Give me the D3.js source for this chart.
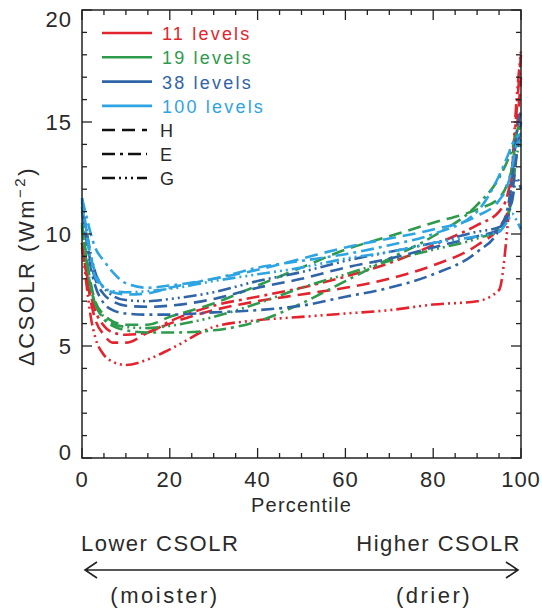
<!DOCTYPE html>
<html>
<head>
<meta charset="utf-8">
<script src="https://cdn.jsdelivr.net/npm/d3@7"></script>
<style>
  body { margin: 0; background: #fff; }
  svg text { font-family: "Liberation Sans", Arial, sans-serif; fill: #2a2a2a; }
</style>
</head>
<body>
<svg width="542" height="611"></svg>
<script>
// Percentile grid shared by every curve
var percentiles = [0, 1, 2, 3, 5, 7, 10, 15, 20, 30, 40, 50, 60, 70, 80, 90, 95, 97, 98, 99, 100];

// 11 levels
var red_H = [9.6, 8.2, 7.0, 6.2, 5.5, 5.15, 5.15, 5.6, 6.0, 6.6, 7.0, 7.3, 7.6, 8.0, 8.6, 9.5, 10.3, 11.0, 12.0, 14.5, 17.0];
var red_E = [9.4, 8.3, 7.3, 6.6, 5.9, 5.6, 5.5, 5.6, 6.1, 6.8, 7.2, 7.6, 8.1, 8.7, 9.5, 10.4, 11.0, 11.8, 13.0, 15.5, 18.0];
var red_G = [9.6, 7.8, 6.3, 5.4, 4.6, 4.3, 4.15, 4.4, 4.85, 5.85, 6.15, 6.3, 6.45, 6.6, 6.85, 7.0, 7.5, 10.5, 13.0, 16.0, 18.2];
// 19 levels
var green_H = [10.5, 9.0, 7.8, 7.0, 6.4, 6.1, 5.95, 5.95, 6.3, 6.9, 7.7, 8.5, 9.3, 9.9, 10.5, 11.1, 11.6, 12.3, 13.0, 14.5, 15.0];
var green_E = [10.3, 8.8, 7.6, 6.9, 6.2, 5.9, 5.7, 5.6, 5.6, 5.7, 6.1, 6.9, 7.9, 8.9, 9.9, 11.3, 12.5, 13.3, 13.8, 14.5, 14.8];
var green_G = [10.4, 8.9, 7.6, 6.9, 6.3, 6.0, 5.85, 5.8, 5.9, 6.3, 6.9, 7.6, 8.2, 8.8, 9.3, 9.8, 10.2, 10.8, 11.8, 13.5, 14.0];
// 38 levels
var blue_H = [11.0, 9.8, 8.7, 8.0, 7.3, 7.0, 6.8, 6.75, 6.8, 7.1, 7.6, 8.0, 8.5, 8.9, 9.4, 9.9, 10.2, 10.8, 11.8, 13.5, 15.0];
var blue_E = [11.2, 9.8, 8.5, 7.7, 6.9, 6.6, 6.45, 6.4, 6.4, 6.5, 6.6, 6.8, 7.2, 7.6, 8.2, 9.2, 10.2, 11.2, 12.5, 14.5, 15.5];
var blue_G = [11.5, 10.2, 9.1, 8.3, 7.6, 7.25, 7.05, 7.0, 7.1, 7.4, 7.9, 8.3, 8.8, 9.2, 9.6, 10.1, 10.3, 10.8, 11.5, 12.5, 12.0];
// 100 levels
var light_H = [11.6, 10.2, 9.0, 8.3, 7.6, 7.4, 7.3, 7.35, 7.6, 8.0, 8.4, 8.9, 9.4, 9.8, 10.2, 10.8, 11.5, 12.2, 13.0, 14.0, 14.2];
var light_E = [11.6, 10.8, 10.0, 9.4, 8.8, 8.3, 7.8, 7.6, 7.7, 8.0, 8.5, 8.8, 9.1, 9.5, 10.0, 11.0, 12.6, 13.5, 14.0, 14.3, 14.5];
var light_G = [11.4, 10.0, 8.8, 8.1, 7.6, 7.45, 7.4, 7.45, 7.55, 7.9, 8.2, 8.5, 8.9, 9.2, 9.6, 9.9, 10.1, 10.6, 10.9, 10.6, 10.2];

var levelNames = ["11 levels", "19 levels", "38 levels", "100 levels"];
var levelColors = ["#e2242e", "#2e9a4c", "#2f64a6", "#2ea4e2"];
var schemeNames = ["H", "E", "G"];
var schemeDashes = ["13,7", "13,5,3,5", "13,4,2,4,2,4,2,4"];

var curves = [
  { level: 0, scheme: 0, values: red_H },
  { level: 0, scheme: 1, values: red_E },
  { level: 0, scheme: 2, values: red_G },
  { level: 1, scheme: 0, values: green_H },
  { level: 1, scheme: 1, values: green_E },
  { level: 1, scheme: 2, values: green_G },
  { level: 2, scheme: 0, values: blue_H },
  { level: 2, scheme: 1, values: blue_E },
  { level: 2, scheme: 2, values: blue_G },
  { level: 3, scheme: 0, values: light_H },
  { level: 3, scheme: 1, values: light_E },
  { level: 3, scheme: 2, values: light_G }
];

var svg = d3.select("svg");
var plotLeft = 82, plotRight = 521, plotTop = 10, plotBottom = 458;

var x = d3.scaleLinear().domain([0, 100]).range([plotLeft, plotRight]);
var y = d3.scaleLinear().domain([0, 20]).range([plotBottom, plotTop]);

// curves
var line = d3.line()
    .x(function(d) { return x(d[0]); })
    .y(function(d) { return y(d[1]); })
    .curve(d3.curveMonotoneX);

svg.append("g").selectAll("path")
    .data(curves)
  .enter().append("path")
    .attr("d", function(c) { return line(percentiles.map(function(p, i) { return [p, c.values[i]]; })); })
    .attr("fill", "none")
    .attr("stroke", function(c) { return levelColors[c.level]; })
    .attr("stroke-width", 2.6)
    .attr("stroke-dasharray", function(c) { return schemeDashes[c.scheme]; });

// frame
svg.append("rect")
    .attr("x", plotLeft).attr("y", plotTop)
    .attr("width", plotRight - plotLeft).attr("height", plotBottom - plotTop)
    .attr("fill", "none").attr("stroke", "#222").attr("stroke-width", 1.5);

// ticks, pointing inward on all four sides
var ticks = svg.append("g").attr("stroke", "#222").attr("stroke-width", 1.3);
d3.range(0, 101, 5).forEach(function(p) {
  var len = p % 20 === 0 ? 10 : 5;
  ticks.append("line").attr("x1", x(p)).attr("x2", x(p)).attr("y1", plotBottom).attr("y2", plotBottom - len);
  ticks.append("line").attr("x1", x(p)).attr("x2", x(p)).attr("y1", plotTop).attr("y2", plotTop + len);
});
d3.range(0, 21, 1).forEach(function(v) {
  var len = v % 5 === 0 ? 10 : 5;
  ticks.append("line").attr("x1", plotLeft).attr("x2", plotLeft + len).attr("y1", y(v)).attr("y2", y(v));
  ticks.append("line").attr("x1", plotRight).attr("x2", plotRight - len).attr("y1", y(v)).attr("y2", y(v));
});

// tick labels
svg.append("g").selectAll("text")
    .data(d3.range(0, 101, 20))
  .enter().append("text")
    .attr("x", function(d) { return x(d); })
    .attr("y", 487)
    .attr("text-anchor", "middle")
    .style("font-size", "22px")
    .style("letter-spacing", "1px")
    .text(function(d) { return d; });

svg.append("g").selectAll("text")
    .data(d3.range(0, 21, 5))
  .enter().append("text")
    .attr("x", 72)
    .attr("y", function(d) { return Math.min(Math.max(y(d), 19), 452) + 8; })
    .attr("text-anchor", "end")
    .style("font-size", "22px")
    .style("letter-spacing", "1px")
    .text(function(d) { return d; });

// axis titles
svg.append("text")
    .attr("x", (plotLeft + plotRight) / 2).attr("y", 512)
    .attr("text-anchor", "middle")
    .style("font-size", "20px")
    .style("letter-spacing", "1.2px")
    .text("Percentile");

var ylab = svg.append("text")
    .attr("transform", "translate(34,266) rotate(-90)")
    .attr("text-anchor", "middle")
    .style("font-size", "22px")
    .style("letter-spacing", "2.5px");
ylab.append("tspan").text("\u0394CSOLR (Wm");
ylab.append("tspan").attr("dy", -9).style("font-size", "15px").text("\u22122");
ylab.append("tspan").attr("dy", 9).text(")");

// legend: resolutions
var legend = svg.append("g");
levelNames.forEach(function(name, i) {
  var ly = 33 + i * 24.3;
  legend.append("line")
      .attr("x1", 102).attr("x2", 152).attr("y1", ly).attr("y2", ly)
      .attr("stroke", levelColors[i]).attr("stroke-width", 2.6);
  legend.append("text")
      .attr("x", 162).attr("y", ly + 7)
      .style("font-size", "18px")
      .style("letter-spacing", "2.2px")
      .style("fill", levelColors[i])
      .text(name);
});
// legend: schemes
schemeNames.forEach(function(name, i) {
  var ly = 130 + i * 24;
  legend.append("line")
      .attr("x1", 102).attr("x2", 147).attr("y1", ly).attr("y2", ly)
      .attr("stroke", "#111").attr("stroke-width", 2.6)
      .attr("stroke-dasharray", schemeDashes[i]);
  legend.append("text")
      .attr("x", 160).attr("y", ly + 7)
      .style("font-size", "18px")
      .text(name);
});

// bottom annotation
var note = svg.append("g");
note.append("text").attr("x", 81).attr("y", 551)
    .style("font-size", "22px").style("letter-spacing", "1.5px")
    .text("Lower CSOLR");
note.append("text").attr("x", 521).attr("y", 551)
    .attr("text-anchor", "end")
    .style("font-size", "22px").style("letter-spacing", "1.5px")
    .text("Higher CSOLR");
note.append("text").attr("x", 165).attr("y", 603)
    .attr("text-anchor", "middle")
    .style("font-size", "22px").style("letter-spacing", "2.5px")
    .text("(moister)");
note.append("text").attr("x", 434).attr("y", 603)
    .attr("text-anchor", "middle")
    .style("font-size", "22px").style("letter-spacing", "2.5px")
    .text("(drier)");

var ay = 570;
note.append("path")
    .attr("d", "M85," + ay + "H518M97," + (ay - 8) + "L85," + ay + "L97," + (ay + 8) +
               "M506," + (ay - 8) + "L518," + ay + "L506," + (ay + 8))
    .attr("fill", "none").attr("stroke", "#222").attr("stroke-width", 1.6);
</script>
</body>
</html>
